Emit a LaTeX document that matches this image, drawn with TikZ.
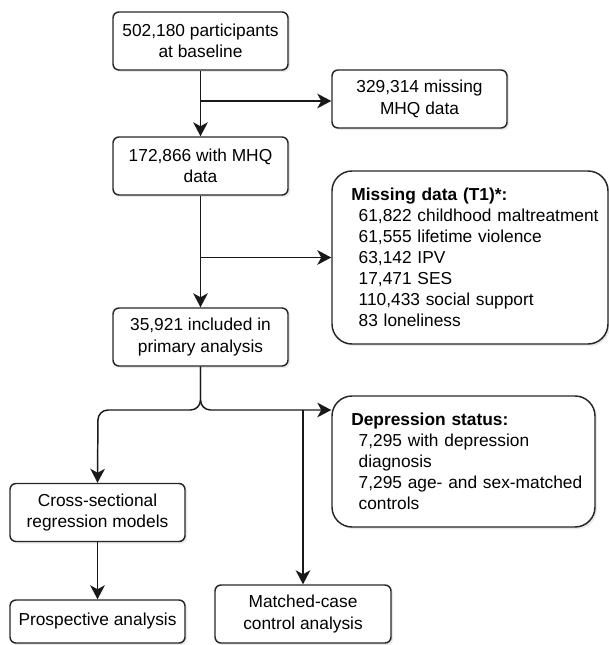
\documentclass[tikz,border=0pt]{standalone}
\usepackage{fontspec}
\setmainfont{Liberation Sans}
\usepackage{tikz}
\usetikzlibrary{arrows.meta}
\usetikzlibrary{shadows}

\begin{document}
\begin{tikzpicture}[x=0.75pt, y=-0.75pt]
		\tikzset{box/.style={draw = black!85, line width = 1.1pt, fill = white, rounded corners = 4.5pt,
				minimum width = 131.25pt, minimum height = 43.5pt, align = center, inner sep = 2pt,
				font = \fontsize{13pt}{16pt}\selectfont,
				drop shadow = {shadow xshift = 1.5pt, shadow yshift = -1.5pt, opacity = 0.18}}}
		\tikzset{bigbox/.style={box, rounded corners = 15pt, align = left, inner xsep = 0pt,
				font = \fontsize{13pt}{15.75pt}\selectfont}}
		\tikzset{edge/.style={-{Stealth[length = 10.5pt, width = 11pt, inset = 3pt]}, line width = 1.1pt, black!90}}
		\useasboundingbox (0, 0) rectangle (609, 645);
					%boxes
					\node[box] (base) at (200.5, 41) {502,180 participants\\at baseline};
					\node[box] (nomhq) at (419.5, 99) {329,314 missing\\MHQ data};
					\node[box] (mhq) at (200.5, 166) {172,866 with MHQ\\data};
					\node[bigbox, text width = 207pt, minimum height = 129.75pt] (missing) at (470, 257.5)
						{\hspace*{14.5pt}\textbf{Missing data (T1)*:}\\
						\hspace*{20pt}61,822 childhood maltreatment\\
						\hspace*{20pt}61,555 lifetime violence\\
						\hspace*{20pt}63,142 IPV\\
						\hspace*{20pt}17,471 SES\\
						\hspace*{20pt}110,433 social support\\
						\hspace*{20pt}83 loneliness};
					\node[box] (incl) at (200.5, 337) {35,921 included in\\primary analysis};
					\node[bigbox, text width = 197.25pt, minimum height = 98.25pt] (depr) at (463.5, 461.5)
						{\hspace*{14.5pt}\textbf{Depression status:}\\
						\hspace*{20pt}7,295 with depression\\
						\hspace*{20pt}diagnosis\\
						\hspace*{20pt}7,295 age- and sex-matched\\
						\hspace*{20pt}controls};
					\node[box] (cross) at (97.5, 512.5) {Cross-sectional\\regression models};
					\node[box, minimum height = 32.25pt] (prosp) at (97.5, 621.5) {Prospective analysis};
					\node[box, minimum width = 132pt] (matched) at (303, 614) {Matched-case\\control analysis};
					%split points
					\coordinate (split1) at (200.5, 101);
					\coordinate (split2) at (200.5, 257.5);
					\coordinate (fork) at (200.5, 410);
					\coordinate (tap) at (303, 410);
					%edges
					\draw[edge] (base) -- (mhq);
					\draw[edge] (split1) -- (split1 -| nomhq.west);
					\draw[edge] (mhq) -- (incl);
					\draw[edge] (split2) -- (missing.west);
					\draw[edge, rounded corners = 7.5pt] (incl.south) -- (fork) -- (98, 410) -- (cross.north);
					\draw[edge, rounded corners = 7.5pt] (incl.south) -- (fork) -- (fork -| depr.west);
					\draw[edge] (tap) -- (matched.north);
					\draw[edge] (cross) -- (prosp);
					
					\end{tikzpicture}
\end{document}
